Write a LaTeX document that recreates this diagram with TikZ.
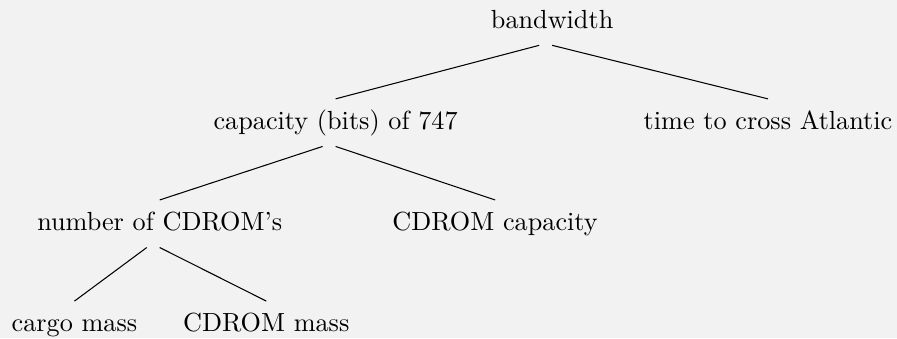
\documentclass[tikz,border=0pt]{standalone}
\usepackage{tikz}
\usetikzlibrary{positioning}
\definecolor{paper}{RGB}{242,242,242}

\begin{document}
\begin{tikzpicture}[
      term/.style={anchor=base, inner sep=0pt},
      branch/.style={line width=0.4pt}
    ]
    \fill[paper] (0,0) rectangle (12.03,-4.534);
    \useasboundingbox (0,0) rectangle (12.03,-4.534);

    \node[term] (bw) at (7.405,-0.380) {bandwidth};
    \node[term] (cap) at (4.501,-1.736) {capacity (bits) of 747};
    \node[term] (time) at (10.300,-1.736) {time to cross Atlantic};
    \node[term] (num) at (2.142,-3.092) {number of CDROM's};
    \node[term] (cdcap) at (6.640,-3.092) {CDROM capacity};
    \node[term] (cargo) at (0.999,-4.448) {cargo mass};
    \node[term] (cdmass) at (3.571,-4.448) {CDROM mass};

    \draw[branch] ([xshift=-0.174cm, yshift=-0.228cm]bw.base) -- ([yshift=0.41cm]cap.base);
    \draw[branch] ([yshift=-0.228cm]bw.base) -- ([yshift=0.41cm]time.base);
    \draw[branch] ([xshift=-0.174cm, yshift=-0.228cm]cap.base) -- ([yshift=0.41cm]num.base);
    \draw[branch] ([yshift=-0.228cm]cap.base) -- ([yshift=0.41cm]cdcap.base);
    \draw[branch] ([xshift=-0.174cm, yshift=-0.228cm]num.base) -- ([yshift=0.41cm]cargo.base);
    \draw[branch] ([yshift=-0.228cm]num.base) -- ([yshift=0.41cm]cdmass.base);
  \end{tikzpicture}
\end{document}
